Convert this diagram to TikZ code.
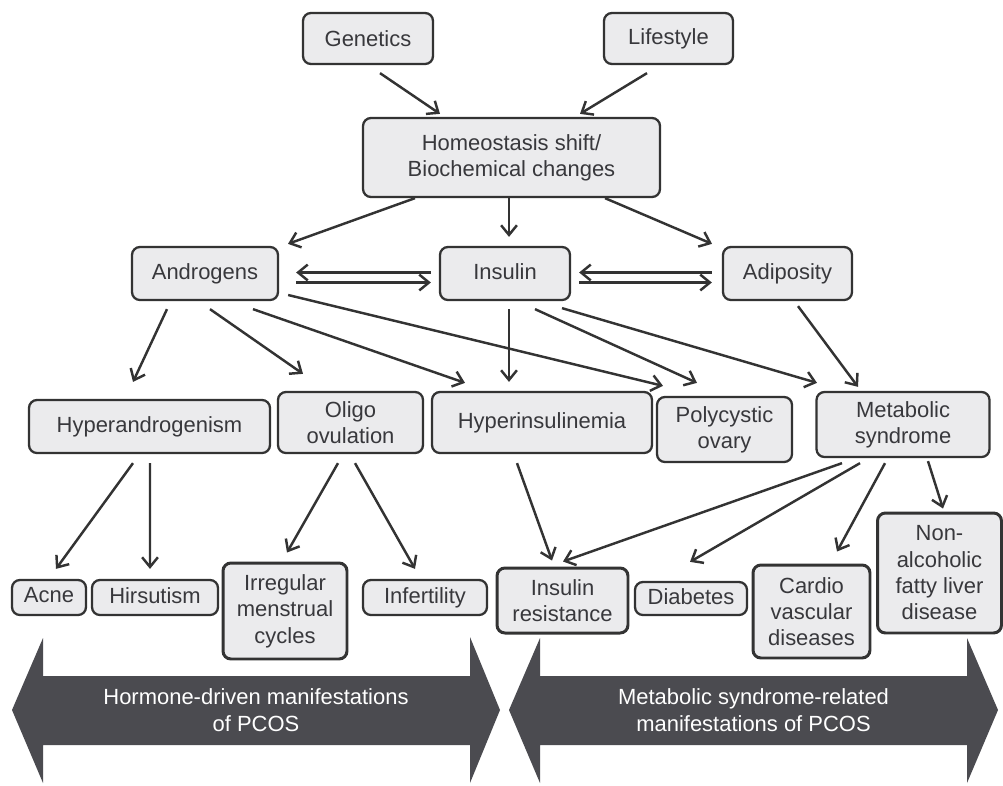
\documentclass[tikz,border=0pt]{standalone}
\usepackage{fontspec}
\setmainfont{Liberation Sans}
\usetikzlibrary{calc, arrows.meta}
\definecolor{boxfill}{HTML}{EBEBED}
\definecolor{boxline}{HTML}{333333}
\definecolor{txtcol}{HTML}{38383C}
\definecolor{bandfill}{HTML}{4B4B50}
\tikzset{
  box/.style={draw=boxline, fill=boxfill, rounded corners=4.5pt, line width=1.3pt,
    inner sep=0pt, align=center, text=txtcol, font=\fontsize{12.5}{15}\selectfont},
  heavy/.style={line width=1.7pt},
  arr/.style={draw=boxline, line width=1.4pt, -{Straight Barb[length=5.5pt,width=9pt]}},
  band/.style={fill=bandfill},
  bandtext/.style={text=white, align=center, font=\fontsize{12.5}{15}\selectfont}
}
\begin{document}
\begin{tikzpicture}[x=0.02cm, y=-0.02cm]
  \useasboundingbox (0,0) rectangle (1003,785);

  % Causes
  \node[box, minimum width=2.6cm, minimum height=1.02cm] (gen) at (368,38.5) {Genetics};
  \node[box, minimum width=2.58cm, minimum height=1.02cm] (life) at (668.5,38.5) {Lifestyle\vphantom{g}};
  \node[box, minimum width=5.94cm, minimum height=1.58cm] (homeo) at (511.5,157.5) {Homeostasis shift/\\Biochemical changes};

  % Second row
  \node[box, minimum width=2.92cm, minimum height=1.06cm] (andr) at (205,273.5) {Androgens};
  \node[box, minimum width=2.6cm, minimum height=1.06cm] (ins) at (505,273.5) {Insulin\vphantom{g}};
  \node[box, minimum width=2.58cm, minimum height=1.06cm] (adip) at (787.5,273.5) {Adiposity};

  % Third row
  \node[box, minimum width=4.82cm, minimum height=1.06cm] (hypa) at (149.5,426.5) {Hyperandrogenism};
  \node[box, minimum width=2.9cm, minimum height=1.22cm] (oligo) at (350.5,422.5) {Oligo\\ovulation};
  \node[box, minimum width=4.4cm, minimum height=1.22cm] (hypi) at (542,422.5) {Hyperinsulinemia};
  \node[box, minimum width=2.7cm, minimum height=1.3cm] (poly) at (724.5,429.5) {Polycystic\\ovary};
  \node[box, minimum width=3.46cm, minimum height=1.3cm] (metab) at (903,424.5) {Metabolic\\syndrome};

  % Manifestations
  \node[box, minimum width=1.48cm, minimum height=0.7cm] (acne) at (49,597.5) {Acne\vphantom{Hg}};
  \node[box, minimum width=2.52cm, minimum height=0.7cm] (hirs) at (155,597.5) {Hirsutism\vphantom{g}};
  \node[box, heavy, minimum width=2.48cm, minimum height=1.92cm] (irreg) at (285,611) {Irregular\\menstrual\\cycles};
  \node[box, minimum width=2.48cm, minimum height=0.7cm] (infert) at (425,597.5) {Infertility};
  \node[box, heavy, minimum width=2.62cm, minimum height=1.3cm] (insres) at (562.5,600.5) {Insulin\\resistance};
  \node[box, minimum width=2.24cm, minimum height=0.66cm] (diab) at (691,598.5) {Diabetes\vphantom{g}};
  \node[box, heavy, minimum width=2.34cm, minimum height=1.86cm] (cardio) at (811.5,611.5) {Cardio\\vascular\\diseases};
  \node[box, heavy, minimum width=2.48cm, minimum height=2.4cm] (nafld) at (939.5,573) {Non-\\alcoholic\\fatty liver\\disease};

  % Arrows from the top
  \draw[arr] ($(gen.south)+(12,8)$) -- ($(homeo.north)+(-71.5,-3)$);
  \draw[arr] ($(life.south)+(-21.5,8)$) -- ($(homeo.north)+(68.5,-3)$);
  \draw[arr] ($(homeo.south)+(-96.5,0)$) -- ($(andr.north)+(83,-2)$);
  \draw[arr] ($(homeo.south)+(-2.5,0)$) -- ($(ins.north)+(4,-9)$);
  \draw[arr] ($(homeo.south)+(93.5,0)$) -- ($(adip.north)+(-75.5,-2)$);

  % Two-way links
  \draw[arr] ($(ins.west)+(-8,-1)$) -- ($(andr.east)+(17,-1)$);
  \draw[arr] ($(andr.east)+(17,9)$) -- ($(ins.west)+(-8,9)$);
  \draw[arr] ($(adip.west)+(-10,-1)$) -- ($(ins.east)+(8,-1)$);
  \draw[arr] ($(ins.east)+(8,9)$) -- ($(adip.west)+(-10,9)$);

  % Androgens, insulin, adiposity
  \draw[arr] ($(andr.south)+(-38,8)$) -- ($(hypa.north)+(-16.5,-17)$);
  \draw[arr] ($(andr.south)+(5,8)$) -- ($(oligo.north)+(-47.5,-17)$);
  \draw[arr] ($(andr.south)+(48,8)$) -- ($(hypi.north)+(-77,-8)$);
  \draw[arr] ($(andr.east)+(9,21.5)$) -- ($(poly.north)+(-61.5,-10)$);
  \draw[arr] ($(ins.south)+(4,8)$) -- ($(hypi.north)+(-33,-9)$);
  \draw[arr] ($(ins.south)+(30,8)$) -- ($(poly.north)+(-27.5,-13)$);
  \draw[arr] ($(ins.south)+(57,7)$) -- ($(metab.north)+(-86,-8)$);
  \draw[arr] ($(adip.south)+(10.5,5)$) -- ($(metab.north)+(-45,-4)$);

  % Down to manifestations
  \draw[arr] ($(hypa.south)+(-16.5,9)$) -- ($(acne.north)+(7,-10)$);
  \draw[arr] ($(hypa.south)+(0.5,9)$) -- ($(hirs.north)+(-5,-10)$);
  \draw[arr] ($(oligo.south)+(-12.5,9)$) -- ($(irreg.north)+(2,-9)$);
  \draw[arr] ($(oligo.south)+(4.5,9)$) -- ($(infert.north)+(-10,-10)$);
  \draw[arr] ($(hypi.south)+(-25,9)$) -- ($(insres.north)+(-10.5,-6)$);
  \draw[arr] ($(metab.south)+(-61,5)$) -- ($(insres.north)+(0.5,-5)$);
  \draw[arr] ($(metab.south)+(-43,5)$) -- ($(diab.north)+(-1,-19)$);
  \draw[arr] ($(metab.south)+(-18,5)$) -- ($(cardio.north)+(25.5,-12)$);
  \draw[arr] ($(metab.south)+(25,3)$) -- ($(nafld.north)+(3.5,-3)$);

  % Big double arrows
  \fill[band] (12,710) -- (43,638) -- (43,676) -- (470,676) -- (470,637) -- (500,710)
    -- (470,783) -- (470,745) -- (43,745) -- (43,783) -- cycle;
  \fill[band] (509,710) -- (540,638) -- (540,676) -- (967,676) -- (967,638) -- (998,710)
    -- (967,783) -- (967,745) -- (540,745) -- (540,783) -- cycle;
  \node[bandtext] (hormtxt) at (256,710) {Hormone-driven manifestations\\of PCOS};
  \node[bandtext] (metatxt) at (753.5,710) {Metabolic syndrome-related\\manifestations of PCOS};

\end{tikzpicture}
\end{document}
